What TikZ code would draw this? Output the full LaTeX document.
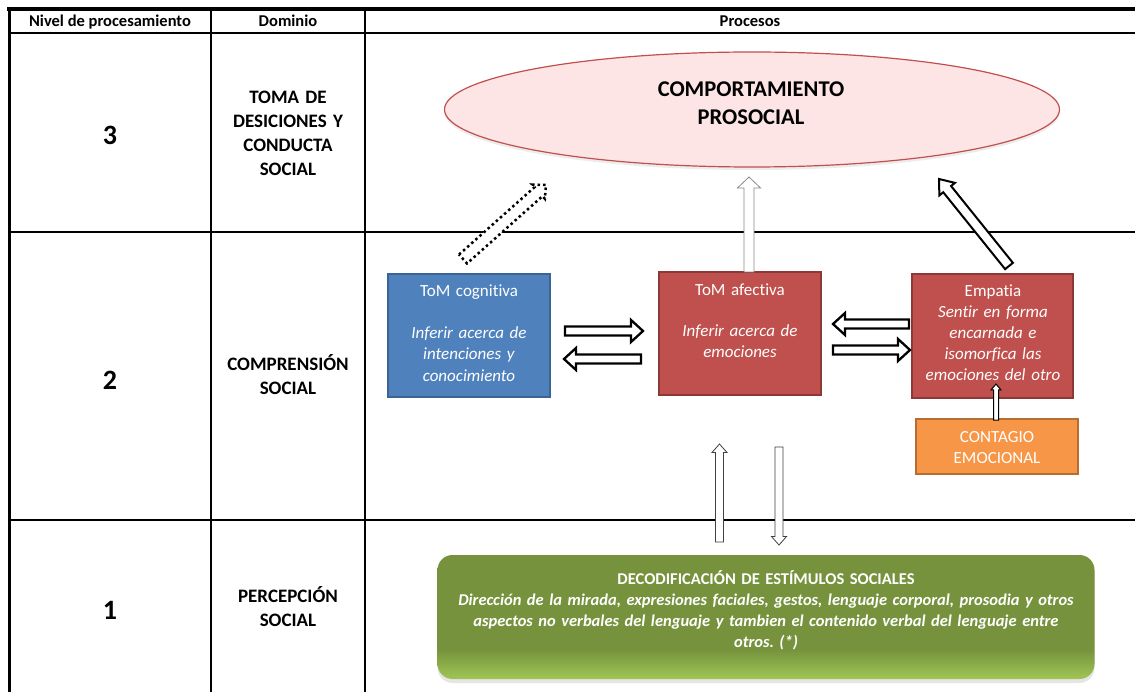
\documentclass[tikz,border=0pt]{standalone}
\usepackage{fontspec}
\setmainfont[Ligatures=NoCommon]{Carlito}
\usetikzlibrary{calc,shapes.geometric,shadows}
\frenchspacing
\definecolor{blueF}{HTML}{4F81BD}
\definecolor{blueB}{HTML}{3A6496}
\definecolor{redF}{HTML}{C0504D}
\definecolor{redB}{HTML}{8C3836}
\definecolor{orF}{HTML}{F79646}
\definecolor{orB}{HTML}{B66D31}
\definecolor{pinkF}{HTML}{FDE4E5}
\definecolor{gD}{HTML}{76923C}
\definecolor{gL}{HTML}{A0C655}
\definecolor{grayB}{HTML}{8A8A8A}
\pgfdeclareverticalshading{greenfill}{100bp}{color(0bp)=(gL); color(25bp)=(gL); color(37bp)=(gD); color(100bp)=(gD)}
% block arrow: #1 style, #2 from, #3 to, #4 shaft half width, #5 head half width, #6 head length
\newcommand\blockarrow[6]{%
  \coordinate (ba-h) at ($(#3)!#6!(#2)$);
  \draw[#1] ($(#2)!#4!90:(#3)$) -- ($(ba-h)!#4!90:(#3)$) -- ($(ba-h)!#5!90:(#3)$) -- (#3)
    -- ($(ba-h)!#5!-90:(#3)$) -- ($(ba-h)!#4!-90:(#3)$) -- ($(#2)!#4!-90:(#3)$) -- cycle;
}
\begin{document}
\begin{tikzpicture}[x=1pt,y=-1pt,
  tline/.style={line width=2pt, black},
  hdr/.style={font=\fontsize{16.5}{20}\selectfont\bfseries, anchor=base, inner sep=0},
  dom/.style={font=\fontsize{19}{24}\selectfont\bfseries, anchor=base, align=center, text width=150pt, inner sep=0},
  num/.style={font=\fontsize{28}{30}\selectfont\bfseries, anchor=base, inner sep=0},
  box/.style={draw, line width=2pt, inner sep=0},
  boxtxt/.style={text=white, font=\fontsize{17}{21}\selectfont, align=center, text width=158pt, anchor=base, inner sep=0},
  barrow/.style={draw=black, line width=2.3pt, fill=white, line join=miter},
  garrow/.style={draw=#1, line width=0.8pt, fill=white},
  ]
\useasboundingbox (0,0) rectangle (1135,692);
\fill[white] (0,0) rectangle (1135,692);

% table
\draw[tline] (9,33) -- (1135,33);
\draw[tline] (9,232) -- (1135,232);
\draw[tline] (9,520) -- (1135,520);
\draw[tline] (211,9) -- (211,692);
\draw[tline] (365,9) -- (365,692);
\draw[line width=3.5pt] (7.3,9) -- (1135,9);
\draw[line width=3pt] (9,7.3) -- (9,692);

% header
\node[hdr] (h1) at (110,27) {Nivel de procesamiento};
\node[hdr] (h2) at (288,27) {Dominio};
\node[hdr] (h3) at (750,27) {Procesos};

% levels
\node[num] (n3) at (110,144.5) {3};
\node[num] (n2) at (110,390) {2};
\node[num] (n1) at (110,619) {1};

% domains
\node[dom] (d3) at (288,104) {TOMA DE\\DESICIONES Y\\CONDUCTA\\SOCIAL};
\node[dom] (d2) at (288,371) {COMPRENSIÓN\\SOCIAL};
\node[dom] (d1) at (288,602) {PERCEPCIÓN\\SOCIAL};

% ellipse
\node[ellipse, draw=redF, line width=1.2pt, fill=pinkF, minimum width=615pt, minimum height=115pt, inner sep=0,
  drop shadow={shadow xshift=0pt, shadow yshift=-3pt, opacity=0.15}] (comp) at (752,109.5) {};
\node[font=\fontsize{22.5}{28}\selectfont\bfseries, align=center, text width=300pt, anchor=base, inner sep=0] (compt) at (751,97) {COMPORTAMIENTO\\PROSOCIAL};

% boxes
\node[box, fill=blueF, draw=blueB, minimum width=162pt, minimum height=123pt] (tomc) at (469,335.5) {};
\node[box, fill=redF, draw=redB, minimum width=162pt, minimum height=123pt] (toma) at (740,333.5) {};
\node[box, fill=redF, draw=redB, minimum width=161pt, minimum height=124pt] (emp) at (992.5,336) {};
\node[box, fill=orF, draw=orB, minimum width=162pt, minimum height=55pt] (cont) at (997,446.5) {};

\node[boxtxt, font=\fontsize{17}{21.3}\selectfont] (tomct) at (469,297) {ToM cognitiva\\[20.2pt]\textit{Inferir acerca de}\\\textit{intenciones y}\\\textit{conocimiento}};
\node[boxtxt] (tomat) at (740,295.3) {ToM afectiva\\[20.4pt]\textit{Inferir acerca de}\\\textit{emociones}};
\node[boxtxt] (empt) at (993,297) {Empatia\\\textit{Sentir en forma}\\\textit{encarnada e}\\\textit{isomorfica las}\\\textit{emociones del otro}};
\node[boxtxt] (contt) at (997,442) {CONTAGIO\\EMOCIONAL};

% green box
\node[rounded corners=15pt, shade, shading=greenfill, minimum width=657pt, minimum height=124pt, inner sep=0,
  drop shadow={shadow xshift=0pt, shadow yshift=-4pt, opacity=0.2}] (deco) at (766,617) {};
\node[text=white, font=\fontsize{16.5}{21}\selectfont\bfseries, align=center, text width=650pt, anchor=base, inner sep=0] (decot) at (766,584.5)
  {DECODIFICACIÓN DE ESTÍMULOS SOCIALES\\\textit{Dirección de la mirada, expresiones faciales, gestos, lenguaje corporal, prosodia y otros}\\\textit{aspectos no verbales del lenguaje y tambien el contenido verbal del lenguaje entre}\\\textit{otros. (*)}};

% arrow end points
\coordinate (a1s) at (565,331);  \coordinate (a1e) at (643,331);
\coordinate (a2s) at (641,359);  \coordinate (a2e) at (564,359);
\coordinate (a3s) at (909,324);  \coordinate (a3e) at (833,324);
\coordinate (a4s) at (833,350);  \coordinate (a4e) at (910,350);
\coordinate (a5s) at (749,272);  \coordinate (a5e) at (749,177);
\coordinate (a6s) at (463,259);  \coordinate (a6e) at (546,185);
\coordinate (a7s) at (1009,266); \coordinate (a7e) at (939,179);
\coordinate (a8s) at (996,420);  \coordinate (a8e) at (996,384);
\coordinate (a9s) at (719.5,542); \coordinate (a9e) at (719.5,444);
\coordinate (a10s) at (779,447); \coordinate (a10e) at (779,545);

% arrows
\blockarrow{barrow}{a1s}{a1e}{4.5pt}{11pt}{12pt}
\blockarrow{barrow}{a2s}{a2e}{4.5pt}{11pt}{12pt}
\blockarrow{barrow}{a3s}{a3e}{4.5pt}{11pt}{12pt}
\blockarrow{barrow}{a4s}{a4e}{4.5pt}{11pt}{12pt}
\blockarrow{garrow=grayB}{a5s}{a5e}{5pt}{11.5pt}{11pt}
\blockarrow{draw=black, line width=2.5pt, fill=white, dash pattern=on 2.5pt off 3pt}{a6s}{a6e}{6pt}{9.5pt}{10pt}
\blockarrow{draw=black, line width=2pt, fill=white}{a7s}{a7e}{5pt}{10pt}{13pt}
\blockarrow{draw=black, line width=1pt, fill=white}{a8s}{a8e}{2.5pt}{5pt}{6pt}
\blockarrow{garrow=black!75}{a9s}{a9e}{4pt}{7.5pt}{8.5pt}
\blockarrow{garrow=black!75}{a10s}{a10e}{4pt}{7.5pt}{8.5pt}
\end{tikzpicture}
\end{document}
